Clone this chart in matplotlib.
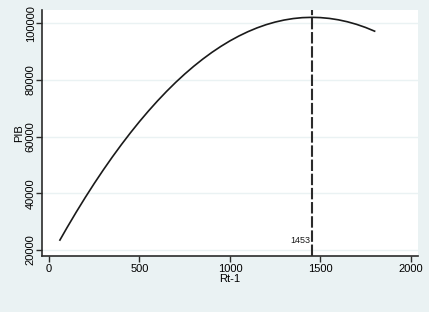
"""PIB vs Rt-1: fitted quadratic with turning point marked."""
import matplotlib
matplotlib.use("Agg")
import matplotlib.pyplot as plt
import matplotlib.transforms as mtransforms

plt.rcParams["font.family"] = ["Liberation Sans", "DejaVu Sans"]

# values
rt_lag = [60, 100, 150, 200, 250, 300, 350, 400, 450, 500, 550, 600, 650,
          700, 750, 800, 850, 900, 950, 1000, 1050, 1100, 1150, 1200, 1250,
          1300, 1350, 1400, 1453, 1500, 1550, 1600, 1650, 1700, 1750, 1800]
pib = [23500, 27960, 33340, 38515, 43490, 48260, 52830, 57190, 61355,
       65320, 69075, 72630, 75985, 79140, 82085, 84830, 87370, 89715,
       91850, 93790, 95520, 97050, 98380, 99510, 100430, 101150, 101670,
       101990, 102100, 102010, 101720, 101225, 100530, 99630, 98530, 97220]
turning_point = 1453
x_ticks = [0, 500, 1000, 1500, 2000]
y_ticks = [20000, 40000, 60000, 80000, 100000]

BG = "#eaf2f3"
INK = "#2b2b2b"

fig = plt.figure(figsize=(4.29, 3.12), dpi=100, facecolor=BG)
ax = fig.add_axes([42 / 429, 1 - 256 / 312, 376 / 429, 246 / 312])
ax.set_facecolor("white")

for y in y_ticks:
    ax.axhline(y, color=BG, lw=1.0, zorder=0)

ax.plot(rt_lag, pib, color="#1a1a1a", lw=1.2, zorder=3)
ax.axvline(turning_point, color=INK, lw=1.5, dashes=(5.5, 1.3), zorder=2)

trans = mtransforms.blended_transform_factory(ax.transData, ax.transAxes)
ax.text(turning_point - 10, 0.065, str(turning_point), transform=trans,
        ha="right", va="center", fontsize=6.5, color="#1a1a1a")

ax.set_xlim(-39, 2040)
ax.set_ylim(17880, 104690)
ax.set_xticks(x_ticks)
ax.set_yticks(y_ticks)
ax.tick_params(axis="both", direction="out", length=4, width=1, color=INK,
               labelsize=8, pad=2)
ax.tick_params(axis="y", pad=0.5)
for lbl in ax.get_yticklabels():
    lbl.set_rotation(90)
    lbl.set_va("center")

for side in ("top", "right"):
    ax.spines[side].set_visible(False)
for side in ("left", "bottom"):
    ax.spines[side].set_color(INK)
    ax.spines[side].set_linewidth(1.2)

ax.set_xlabel("Rt-1", fontsize=8, labelpad=0)
ax.set_ylabel("PIB", fontsize=8, labelpad=1)

fig.savefig("out.png", dpi=100, facecolor=BG)
